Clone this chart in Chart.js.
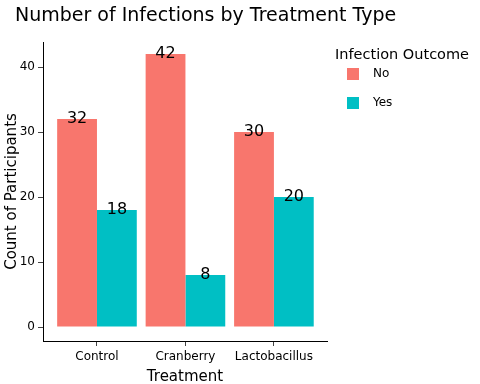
<!DOCTYPE html>
<html>
<head>
<meta charset="UTF-8">
<title>Number of Infections by Treatment Type</title>
<script src="https://cdn.jsdelivr.net/npm/chart.js"></script>
<style>
  body { margin: 0; background: #fff; }
  #wrap { width: 480px; height: 384px; }
</style>
</head>
<body>
<div id="wrap"><canvas id="infChart"></canvas></div>
<script>
// data
const treatments = ['Control', 'Cranberry', 'Lactobacillus'];
const noCounts = [32, 42, 30];
const yesCounts = [18, 8, 20];
const outcomes = ['No', 'Yes'];
const yTicks = [0, 10, 20, 30, 40];

const colors = ['#F8766D', '#00BFC4'];
const FONT = "'DejaVu Sans', Verdana, sans-serif";

// title, legend and bar value labels
const extras = {
  id: 'extras',
  afterDatasetsDraw(chart) {
    const ctx = chart.ctx;
    ctx.save();
    ctx.fillStyle = '#000';
    ctx.font = '16px ' + FONT;
    ctx.textAlign = 'center';
    ctx.textBaseline = 'middle';
    chart.data.datasets.forEach((ds, i) => {
      chart.getDatasetMeta(i).data.forEach((bar, j) => {
        ctx.fillText(String(ds.data[j].y), bar.x, bar.y);
      });
    });
    ctx.restore();
  },
  afterDraw(chart) {
    const ctx = chart.ctx;
    ctx.save();
    ctx.fillStyle = '#000';
    ctx.textBaseline = 'middle';
    ctx.textAlign = 'left';
    ctx.font = '19px ' + FONT;
    ctx.fillText('Number of Infections by Treatment Type', 15, 16);

    ctx.font = '14.5px ' + FONT;
    ctx.fillText('Infection Outcome', 335, 55);
    ctx.font = '12px ' + FONT;
    outcomes.forEach((name, i) => {
      const y = 74 + i * 29;
      ctx.fillStyle = colors[i];
      ctx.fillRect(347, y - 6, 12, 12);
      ctx.fillStyle = '#000';
      ctx.fillText(name, 373, y);
    });
    ctx.restore();
  }
};

new Chart(document.getElementById('infChart'), {
  type: 'bar',
  data: {
    datasets: [
      {
        label: outcomes[0],
        data: noCounts.map((v, i) => ({ x: i, y: v })),
        backgroundColor: colors[0],
        borderWidth: 0
      },
      {
        label: outcomes[1],
        data: yesCounts.map((v, i) => ({ x: i, y: v })),
        backgroundColor: colors[1],
        borderWidth: 0
      }
    ]
  },
  options: {
    responsive: true,
    maintainAspectRatio: false,
    animation: false,
    categoryPercentage: 0.9,
    barPercentage: 1.0,
    layout: { padding: { top: 42, right: 153, left: 0, bottom: 0 } },
    plugins: {
      legend: { display: false },
      tooltip: { enabled: false }
    },
    scales: {
      x: {
        type: 'linear',
        offset: false,
        min: -0.61,
        max: 2.6,
        afterBuildTicks: s => { s.ticks = treatments.map((t, i) => ({ value: i })); },
        afterFit: s => { s.height = 43; },
        ticks: {
          callback: v => treatments[v],
          color: '#000',
          font: { family: FONT, size: 12 },
          padding: 4,
          maxRotation: 0
        },
        grid: { offset: false, drawOnChartArea: false, drawTicks: true, tickLength: 5, tickColor: '#444' },
        border: { display: true, color: '#000', width: 1 },
        title: {
          display: true,
          text: 'Treatment',
          color: '#000',
          font: { family: FONT, size: 15 },
          padding: { top: 0, bottom: -2 }
        }
      },
      y: {
        min: -2.15,
        max: 43.85,
        afterBuildTicks: s => { s.ticks = yTicks.map(v => ({ value: v })); },
        afterFit: s => { s.width = 43; },
        ticks: {
          color: '#000',
          font: { family: FONT, size: 12 },
          padding: 3
        },
        grid: { drawOnChartArea: false, drawTicks: true, tickLength: 5, tickColor: '#444' },
        border: { display: true, color: '#000', width: 1 },
        title: {
          display: true,
          text: 'Count of Participants',
          color: '#000',
          font: { family: FONT, size: 15 },
          padding: { top: 3, bottom: 0 }
        }
      }
    }
  },
  plugins: [extras]
});
</script>
</body>
</html>
